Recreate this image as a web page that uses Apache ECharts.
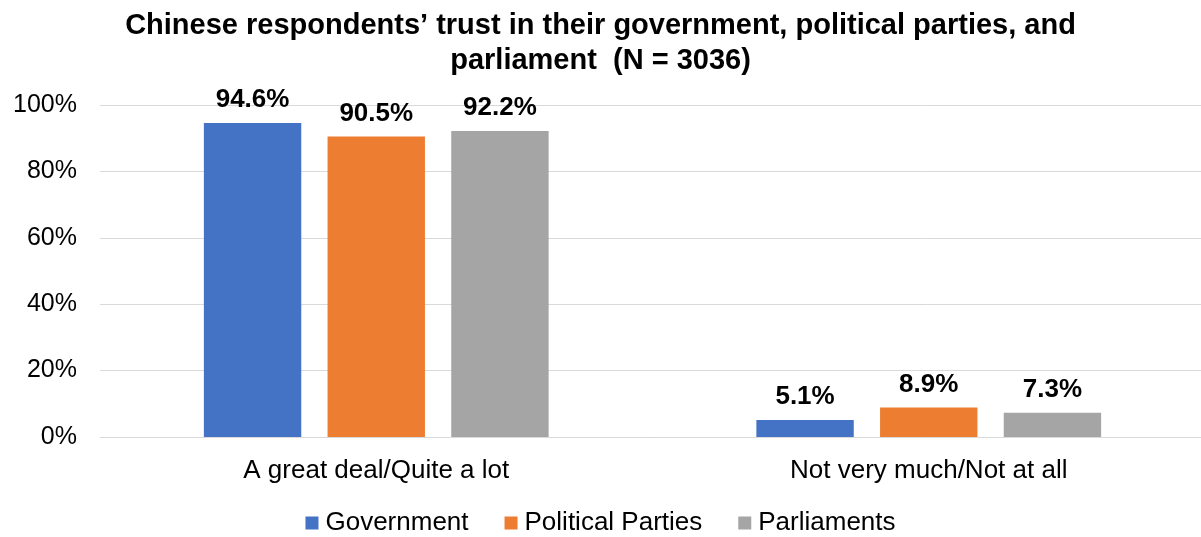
<!DOCTYPE html>
<html><head><meta charset="utf-8">
<script src="https://cdn.jsdelivr.net/npm/echarts@6/dist/echarts.min.js"></script>
<style>html,body{margin:0;padding:0;background:#fff}#c{width:1201px;height:537px}</style>
</head><body><div id="c"></div>
<script>
const categories = ['A great deal/Quite a lot', 'Not very much/Not at all'];
const seriesNames = ['Government', 'Political Parties', 'Parliaments'];
const government = [94.6, 5.1];
const politicalParties = [90.5, 8.9];
const parliaments = [92.2, 7.3];
const colors = ['#4472C4', '#ED7D31', '#A5A5A5'];
const values = [government, politicalParties, parliaments];

const chart = echarts.init(document.getElementById('c'));
const font = '"Liberation Sans", Arial, sans-serif';
chart.setOption({
  animation: false,
  textStyle: { fontFamily: font },
  title: {
    text: 'Chinese respondents\u2019 trust in their government, political parties, and\nparliament  (N = 3036)',
    left: 'center', top: 3,
    textStyle: { fontFamily: font, fontSize: 29, fontWeight: 'bold', color: '#000', lineHeight: 35 }
  },
  legend: {
    top: 505, left: 'center',
    itemWidth: 13, itemHeight: 13, itemGap: 36,
    icon: 'rect',
    textStyle: { fontFamily: font, fontSize: 26, color: '#000', padding: [0, 0, 0, 2] },
    data: seriesNames
  },
  grid: { left: 100, width: 1105, top: 105, height: 332, outerBoundsMode: 'none', containLabel: false },
  xAxis: {
    type: 'category', data: categories,
    axisLine: { lineStyle: { color: '#D9D9D9', width: 1 } },
    axisTick: { show: false },
    axisLabel: { fontFamily: font, fontSize: 26, color: '#000', margin: 21 }
  },
  yAxis: {
    type: 'value', min: 0, max: 100, interval: 20,
    axisLabel: { formatter: '{value}%', fontFamily: font, fontSize: 25, color: '#000', margin: 23 },
    splitLine: { lineStyle: { color: '#D9D9D9', width: 1 } },
    axisLine: { show: false }, axisTick: { show: false }
  },
  series: seriesNames.map((n, i) => ({
    name: n, type: 'bar', data: values[i],
    barGap: '27%', barCategoryGap: '37.6%',
    itemStyle: { color: colors[i] },
    label: {
      show: true, position: 'top', distance: 10,
      formatter: p => p.value.toFixed(1) + '%',
      fontFamily: font, fontSize: 26, fontWeight: 'bold', color: '#000'
    }
  }))
});
</script></body></html>
